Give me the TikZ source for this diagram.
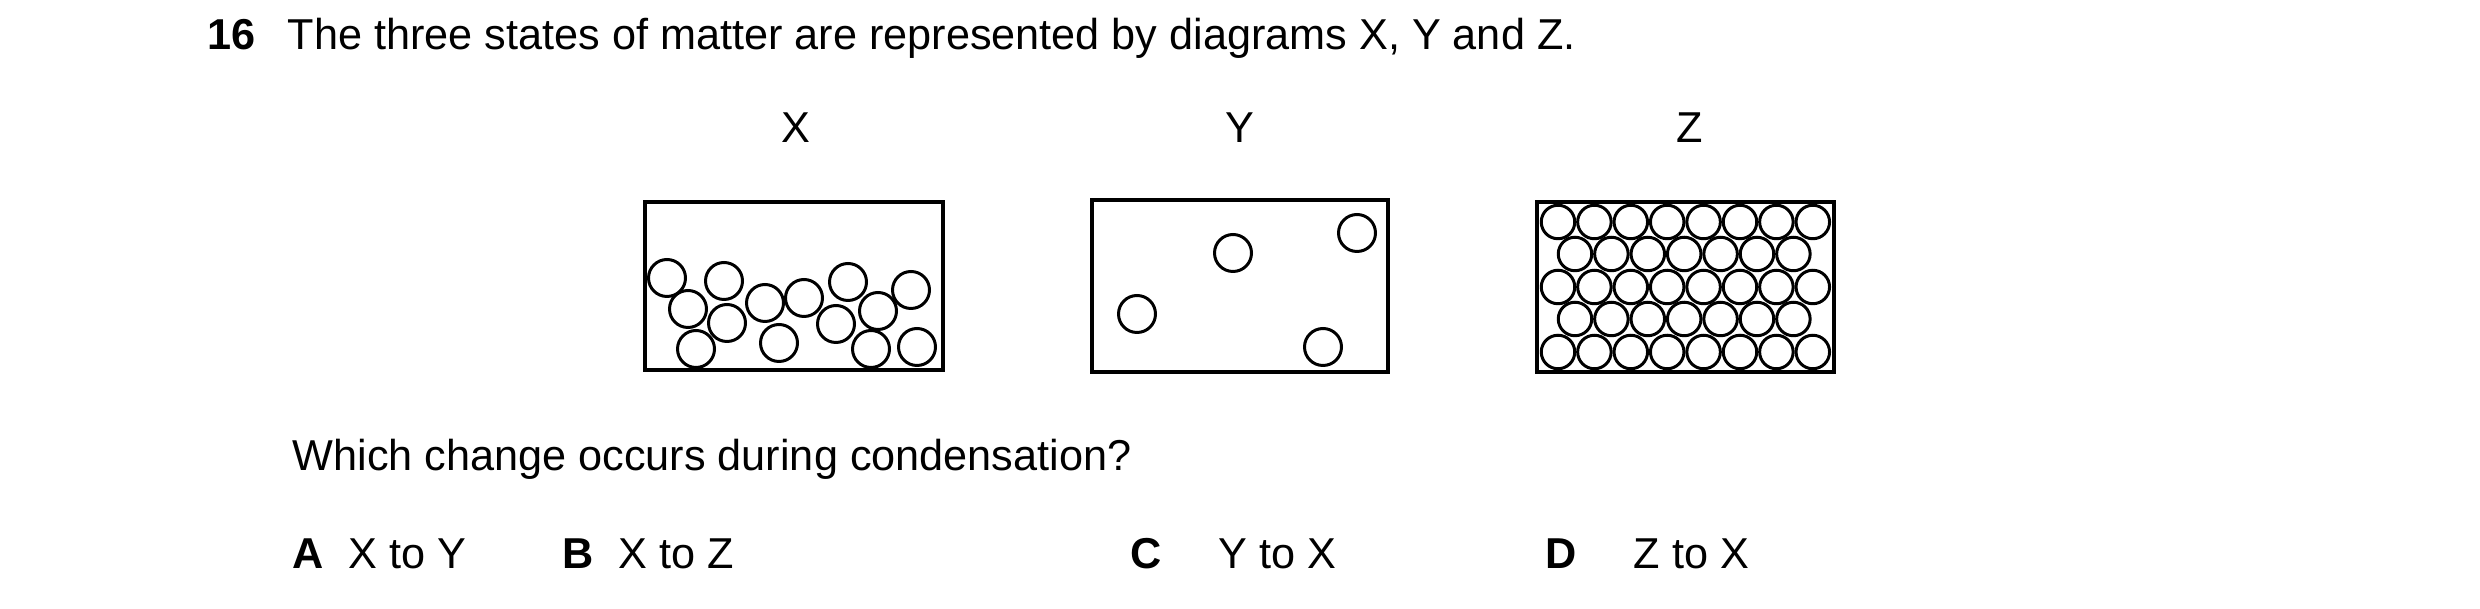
\documentclass[tikz,border=0pt]{standalone}
\usepackage{fontspec}
\setmainfont{Liberation Sans}
\usetikzlibrary{positioning}

\begin{document}
\begin{tikzpicture}[x=0.1mm,y=-0.1mm,
    txt/.style={anchor=base west,inner sep=0pt,font=\fontsize{12.3pt}{14pt}\selectfont},
    lbl/.style={anchor=base,inner sep=0pt,font=\fontsize{12.3pt}{14pt}\selectfont},
    box/.style={draw,line width=1.1pt},
    small node/.style={circle,draw,line width=0.85pt,inner sep=0pt,minimum size=3.7mm},
    tight node/.style={circle,draw,line width=0.85pt,inner sep=0pt,minimum size=3.35mm}]
   \useasboundingbox (0,0) rectangle (2480,609);
   % question
   \node[txt] (num) at (207,50) {\textbf{16}};
   \node[txt] (q) at (287,50) {The three states of matter are represented by diagrams X, Y and Z.};
   \node[lbl] (lx) at (796,143) {X};
   \node[lbl] (ly) at (1240,143) {Y};
   \node[lbl] (lz) at (1690,143) {Z};
   % X: liquid
   \begin{scope}
     \draw[box] (645,202) rectangle (943,370);
     \foreach \px/\py [count=\i] in {667/278,688/309,724/281,727/323,696/349,765/303,804/298,
         779/343,848/282,836/324,878/311,911/290,871/349,917/347}
       \node[small node] (x\i) at (\px,\py) {};
   \end{scope}
   % Y: gas
   \begin{scope}
     \draw[box] (1092,200) rectangle (1388,372);
     \node[small node] (y1) at (1137,314) {};
     \node[small node] (y2) at (1233,253) {};
     \node[small node] (y3) at (1357,233) {};
     \node[small node] (y4) at (1323,347) {};
   \end{scope}
   % Z: solid
   \begin{scope}
     \draw[box] (1537,202) rectangle (1834,372);
     \foreach \r/\py in {1/222,3/287,5/352}
       \foreach \c in {0,...,7}
         \node[tight node] (z\r\c) at (1558+36.4*\c,\py) {};
     \foreach \r/\py in {2/254,4/319}
       \foreach \c in {0,...,6}
         \node[tight node] (z\r\c) at (1575+36.4*\c,\py) {};
   \end{scope}
   % answers
   \node[txt] (ask) at (292,470) {Which change occurs during condensation?};
   \node[txt] (oa) at (292,568) {\textbf{A}};
   \node[txt] (ta) at (348,568) {X to Y};
   \node[txt] (ob) at (562,568) {\textbf{B}};
   \node[txt] (tb) at (618,568) {X to Z};
   \node[txt] (oc) at (1130,568) {\textbf{C}};
   \node[txt] (tc) at (1218,568) {Y to X};
   \node[txt] (od) at (1545,568) {\textbf{D}};
   \node[txt] (td) at (1633,568) {Z to X};
\end{tikzpicture}
\end{document}
